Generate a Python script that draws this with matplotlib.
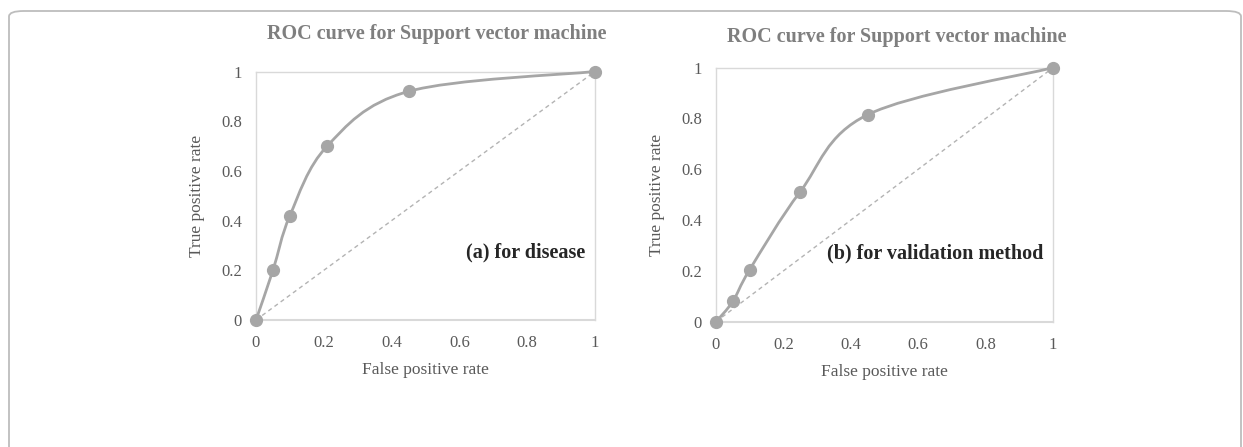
import numpy as np
import matplotlib
matplotlib.use("Agg")
import matplotlib.pyplot as plt
from matplotlib.path import Path
from matplotlib.patches import PathPatch, FancyBboxPatch

plt.rcParams['font.family'] = ['Liberation Serif', 'DejaVu Serif']

# data
fpr_a = [0, 0.05, 0.1, 0.21, 0.45, 1]
tpr_a = [0, 0.2, 0.42, 0.7, 0.92, 1]
fpr_b = [0, 0.05, 0.1, 0.25, 0.45, 1]
tpr_b = [0, 0.08, 0.205, 0.512, 0.815, 1]
ticks = [0, 0.2, 0.4, 0.6, 0.8, 1]
tick_labels = ['0', '0.2', '0.4', '0.6', '0.8', '1']
title = "ROC curve for Support vector machine"
notes = ["(a) for disease", "(b) for validation method"]

line_col = '#a6a6a6'
txt_col = '#595959'


def smooth_path(x, y):
    # excel-like smoothed line: cubic bezier through the points
    pts = np.column_stack([x, y]).astype(float)
    n = len(pts)
    verts = [pts[0]]
    codes = [Path.MOVETO]
    for i in range(n - 1):
        p0 = pts[i - 1] if i > 0 else pts[i]
        p1 = pts[i]
        p2 = pts[i + 1]
        p3 = pts[i + 2] if i + 2 < n else pts[i + 1]
        c1 = p1 + (p2 - p0) / 6.0
        c2 = p2 - (p3 - p1) / 6.0
        verts += [c1, c2, p2]
        codes += [Path.CURVE4] * 3
    return Path(verts, codes)


fig = plt.figure(figsize=(12.43, 4.47), dpi=100)

# outer rounded frame
frame = FancyBboxPatch((9 / 1243, -0.02), 1232 / 1243, 1 - 11 / 447 + 0.02,
                       boxstyle="round,pad=0,rounding_size=0.012",
                       transform=fig.transFigure, fill=False,
                       edgecolor='#bdbdbd', linewidth=1.3, clip_on=False)
fig.patches.append(frame)

axes_pos = [[256 / 1243, 1 - 320 / 447, 339 / 1243, 248.5 / 447],
            [716 / 1243, 1 - 321.7 / 447, 337 / 1243, 254 / 447]]
title_y = [34, 37]
title_x = [437, 897]
datasets = [(fpr_a, tpr_a), (fpr_b, tpr_b)]

for k in range(2):
    ax = fig.add_axes(axes_pos[k])
    fx, ty = datasets[k]
    ax.plot([0, 1], [0, 1], linestyle=(0, (3, 2.5)), color='#b3b3b3', linewidth=1.0, zorder=2)
    ax.add_patch(PathPatch(smooth_path(fx, ty), fill=False, edgecolor=line_col,
                           linewidth=2.0, zorder=3, clip_on=False))
    ax.plot(fx, ty, linestyle='none', marker='o', markersize=8.5, color=line_col,
            zorder=4, clip_on=False)
    ax.set_xlim(0, 1)
    ax.set_ylim(0, 1)
    ax.set_xticks(ticks)
    ax.set_xticklabels(tick_labels)
    ax.set_yticks(ticks)
    ax.set_yticklabels(tick_labels)
    ax.tick_params(length=0, labelsize=12, colors=txt_col)
    ax.tick_params(axis='x', pad=11)
    ax.tick_params(axis='y', pad=10)
    for s in ax.spines.values():
        s.set_color('#d9d9d9')
        s.set_linewidth(1.0)
    ax.spines['bottom'].set_linewidth(1.5)
    ax.set_xlabel("False positive rate", fontsize=12.5, color=txt_col, labelpad=8)
    ax.set_ylabel("True positive rate", fontsize=12.5, color=txt_col, labelpad=12)
    ax.text(0.97, 0.27, notes[k], transform=ax.transAxes, ha='right', va='center',
            fontsize=14.5, fontweight='bold', color='#262626')
    fig.text(title_x[k] / 1243, 1 - title_y[k] / 447, title, ha='center', va='center',
             fontsize=14.5, fontweight='bold', color='#7f7f7f')

fig.savefig("out.png", dpi=100)
